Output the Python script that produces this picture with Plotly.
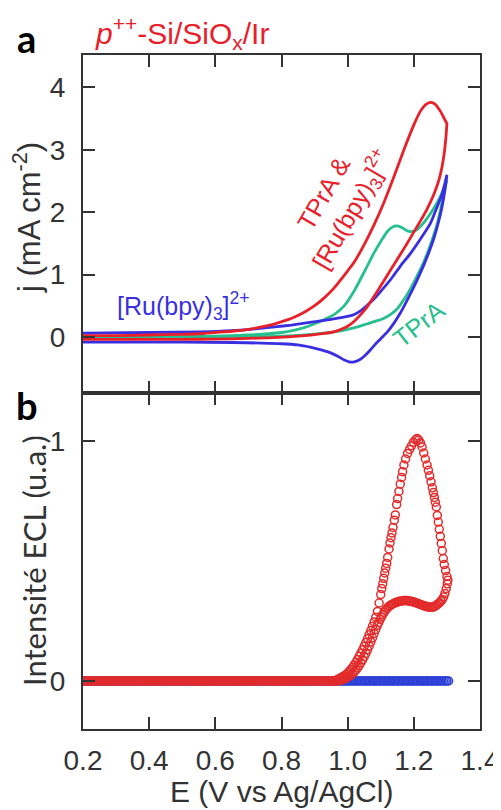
import plotly.graph_objects as go

# ---------------- Panel a : cyclic voltammograms, j (mA cm^-2) vs E (V) ----------------
# TPrA & [Ru(bpy)3]2+  (red)
CV_BOTH_FWD_E = [0.20, 0.30, 0.40, 0.50, 0.55, 0.60, 0.65, 0.70, 0.74, 0.78, 0.81, 0.84, 0.87, 0.90, 0.93,
                 0.96, 0.99, 1.02, 1.05, 1.08, 1.11, 1.14, 1.17, 1.20, 1.22, 1.235, 1.25, 1.265, 1.28, 1.29, 1.30]
CV_BOTH_FWD_J = [0.02, 0.02, 0.03, 0.04, 0.05, 0.07, 0.09, 0.12, 0.16, 0.21, 0.26, 0.32, 0.40, 0.50, 0.63,
                 0.79, 0.99, 1.20, 1.48, 1.80, 2.16, 2.57, 3.00, 3.40, 3.62, 3.72, 3.76, 3.73, 3.62, 3.52, 3.42]
CV_BOTH_REV_E = [1.30, 1.297, 1.292, 1.285, 1.275, 1.26, 1.24, 1.22, 1.20, 1.18, 1.16, 1.14, 1.12, 1.10, 1.08,
                 1.06, 1.04, 1.02, 1.00, 0.98, 0.96, 0.93, 0.90, 0.86, 0.82, 0.76, 0.70, 0.60, 0.50, 0.40, 0.30, 0.20]
CV_BOTH_REV_J = [3.42, 3.20, 2.95, 2.72, 2.50, 2.28, 2.05, 1.86, 1.68, 1.50, 1.33, 1.16, 0.99, 0.82, 0.65,
                 0.49, 0.36, 0.25, 0.17, 0.12, 0.085, 0.055, 0.035, 0.015, 0.0, -0.015, -0.025, -0.035, -0.04, -0.04, -0.04, -0.04]

# TPrA only (green)
CV_TPRA_FWD_E = [0.20, 0.40, 0.60, 0.70, 0.76, 0.80, 0.84, 0.87, 0.90, 0.93, 0.96, 0.99, 1.02, 1.05, 1.08,
                 1.10, 1.12, 1.135, 1.15, 1.165, 1.18, 1.195, 1.21, 1.225, 1.24, 1.26, 1.28, 1.30]
CV_TPRA_FWD_J = [0.00, 0.00, 0.01, 0.03, 0.05, 0.07, 0.11, 0.15, 0.21, 0.28, 0.36, 0.50, 0.74, 1.04, 1.35,
                 1.53, 1.69, 1.76, 1.78, 1.75, 1.70, 1.69, 1.72, 1.80, 1.90, 2.06, 2.25, 2.52]
CV_TPRA_REV_E = [1.30, 1.29, 1.28, 1.27, 1.255, 1.24, 1.225, 1.21, 1.195, 1.18, 1.165, 1.15, 1.13, 1.11, 1.09,
                 1.06, 1.03, 1.00, 0.96, 0.92, 0.88, 0.82, 0.75, 0.60, 0.40, 0.20]
CV_TPRA_REV_J = [2.52, 2.28, 2.02, 1.80, 1.55, 1.33, 1.14, 0.98, 0.82, 0.68, 0.56, 0.45, 0.36, 0.30, 0.26,
                 0.21, 0.16, 0.12, 0.08, 0.055, 0.035, 0.015, 0.0, -0.015, -0.02, -0.02]

# [Ru(bpy)3]2+ only (blue)
CV_RU_FWD_E = [0.20, 0.40, 0.55, 0.65, 0.72, 0.78, 0.83, 0.87, 0.91, 0.95, 0.98, 1.00, 1.02, 1.04, 1.06,
               1.08, 1.10, 1.13, 1.16, 1.19, 1.22, 1.25, 1.27, 1.285, 1.30]
CV_RU_FWD_J = [0.06, 0.07, 0.08, 0.10, 0.13, 0.16, 0.19, 0.22, 0.25, 0.28, 0.31, 0.33, 0.36, 0.42, 0.51,
               0.61, 0.73, 0.92, 1.14, 1.34, 1.57, 1.82, 2.08, 2.28, 2.60]
CV_RU_REV_E = [1.30, 1.293, 1.285, 1.275, 1.26, 1.245, 1.23, 1.215, 1.20, 1.18, 1.16, 1.14, 1.12, 1.10, 1.08,
               1.065, 1.05, 1.035, 1.02, 1.005, 0.99, 0.97, 0.95, 0.92, 0.89, 0.85, 0.80, 0.74, 0.65, 0.50, 0.35, 0.20]
CV_RU_REV_J = [2.60, 2.32, 2.08, 1.85, 1.57, 1.35, 1.15, 0.97, 0.80, 0.59, 0.39, 0.22, 0.08, -0.03, -0.14,
               -0.23, -0.31, -0.37, -0.40, -0.40, -0.37, -0.31, -0.26, -0.21, -0.17, -0.13, -0.11, -0.10, -0.09,
               -0.085, -0.085, -0.085]

# ---------------- Panel b : ECL intensity (a.u.) vs E (V) ----------------
# flat baseline part of the sweep (both traces read as 0 there)
ECL_BASE_E = [round(0.20 + 0.005 * k, 3) for k in range(152)]
ECL_BASE_I = [0.0] * len(ECL_BASE_E)
ECL_RU_E = [round(0.20 + 0.005 * k, 3) for k in range(222)]
ECL_RU_I = [0.0] * len(ECL_RU_E)

# TPrA & [Ru(bpy)3]2+ : forward branch (rise + main peak)
ECL_FWD_E = [0.960, 0.965, 0.970, 0.975, 0.980, 0.985, 0.990, 0.995, 1.000, 1.005,
             1.010, 1.015, 1.020, 1.025, 1.030, 1.035, 1.040, 1.045, 1.050, 1.055,
             1.060, 1.065, 1.070, 1.075, 1.080, 1.085, 1.090, 1.095, 1.100, 1.103,
             1.106, 1.109, 1.112, 1.115, 1.118, 1.121, 1.125, 1.128, 1.131, 1.134,
             1.137, 1.141, 1.144, 1.148, 1.151, 1.155, 1.159, 1.163, 1.166, 1.170,
             1.175, 1.181, 1.187, 1.193, 1.199, 1.205, 1.210, 1.215, 1.220, 1.225,
             1.230, 1.235, 1.240, 1.244, 1.248, 1.252, 1.256, 1.259, 1.262, 1.265,
             1.268, 1.271, 1.274, 1.277, 1.280, 1.283, 1.286, 1.289, 1.292, 1.296,
             1.300]
ECL_FWD_I = [0.000, 0.003, 0.006, 0.010, 0.014, 0.018, 0.022, 0.027, 0.033, 0.040,
             0.048, 0.057, 0.067, 0.078, 0.090, 0.103, 0.116, 0.130, 0.145, 0.160,
             0.176, 0.193, 0.210, 0.228, 0.246, 0.266, 0.290, 0.325, 0.360, 0.385,
             0.405, 0.428, 0.450, 0.470, 0.490, 0.515, 0.550, 0.575, 0.597, 0.617,
             0.640, 0.670, 0.692, 0.735, 0.760, 0.790, 0.820, 0.848, 0.872, 0.900,
             0.925, 0.948, 0.965, 0.980, 0.995, 1.005, 1.010, 1.004, 0.992, 0.975,
             0.950, 0.925, 0.900, 0.878, 0.855, 0.830, 0.805, 0.785, 0.765, 0.745,
             0.725, 0.690, 0.662, 0.632, 0.603, 0.573, 0.543, 0.510, 0.485, 0.460,
             0.435]
# reverse branch (shoulder / plateau)
ECL_REV_E = [1.303, 1.301, 1.298, 1.294, 1.290, 1.286, 1.282, 1.278, 1.274, 1.270,
             1.266, 1.262, 1.258, 1.254, 1.250, 1.246, 1.242, 1.238, 1.234, 1.230,
             1.226, 1.222, 1.218, 1.214, 1.210, 1.206, 1.202, 1.198, 1.194, 1.190,
             1.186, 1.182, 1.178, 1.174, 1.170, 1.166, 1.162, 1.158, 1.154, 1.150,
             1.146, 1.142, 1.138, 1.134, 1.130, 1.126, 1.122, 1.118, 1.114, 1.110,
             1.106, 1.102, 1.098, 1.094, 1.090, 1.085, 1.080, 1.075, 1.070, 1.065,
             1.060, 1.055, 1.050, 1.045, 1.040, 1.035, 1.030, 1.025, 1.020, 1.015,
             1.010, 1.005, 1.000, 0.995, 0.990, 0.985, 0.980, 0.975, 0.970, 0.965,
             0.960]
ECL_REV_I = [0.420, 0.405, 0.385, 0.365, 0.350, 0.340, 0.333, 0.327, 0.322, 0.318,
             0.313, 0.310, 0.308, 0.307, 0.307, 0.308, 0.309, 0.310, 0.312, 0.314,
             0.316, 0.318, 0.320, 0.322, 0.324, 0.326, 0.328, 0.330, 0.331, 0.332,
             0.333, 0.334, 0.335, 0.335, 0.335, 0.334, 0.333, 0.332, 0.331, 0.329,
             0.327, 0.325, 0.322, 0.319, 0.316, 0.312, 0.307, 0.301, 0.294, 0.286,
             0.277, 0.267, 0.256, 0.244, 0.232, 0.215, 0.198, 0.180, 0.163, 0.146,
             0.130, 0.115, 0.101, 0.088, 0.076, 0.065, 0.055, 0.046, 0.038, 0.031,
             0.025, 0.020, 0.016, 0.012, 0.009, 0.006, 0.004, 0.002, 0.001, 0.000,
             0.000]

X_TICKS = [0.2, 0.4, 0.6, 0.8, 1.0, 1.2, 1.4]
YA_TICKS = [0, 1, 2, 3, 4]
YB_TICKS = [0, 1]

# ---------------- styling ----------------
# the page body has an 8px margin, so the figure is drawn 8px in from the window corner
PAGE_PAD = 8
W, H = 501 - PAGE_PAD, 810 - PAGE_PAD
RED = "#e8202a"
BLUE = "#3a2fe0"
GREEN = "#26bf8d"
ECL_RED = "#e32b2b"
ECL_BLUE = "#2b3fd6"
AX = "#333333"
SANS = "Arial, Liberation Sans, sans-serif"
CAL = "Lato, Open Sans, sans-serif"


def fx(p):
    """window pixel x -> paper fraction"""
    return (p - PAGE_PAD) / W


def fy(p):
    """window pixel y -> paper fraction"""
    return 1 - (p - PAGE_PAD) / H


fig = go.Figure()

cv_sets = [
    (CV_TPRA_FWD_E + CV_TPRA_REV_E, CV_TPRA_FWD_J + CV_TPRA_REV_J, GREEN),
    (CV_RU_FWD_E + CV_RU_REV_E, CV_RU_FWD_J + CV_RU_REV_J, BLUE),
    (CV_BOTH_FWD_E + CV_BOTH_REV_E, CV_BOTH_FWD_J + CV_BOTH_REV_J, RED),
]
for xs, ys, c in cv_sets:
    fig.add_trace(go.Scatter(x=xs, y=ys, mode="lines", xaxis="x2", yaxis="y2",
                             line=dict(color=c, width=2.8, shape="spline", smoothing=0.6),
                             showlegend=False, hoverinfo="skip"))

mk = dict(symbol="circle-open", size=8)
fig.add_trace(go.Scatter(x=ECL_RU_E, y=ECL_RU_I, mode="markers", xaxis="x", yaxis="y",
                         marker=dict(color=ECL_BLUE, line=dict(width=1.5, color=ECL_BLUE), **mk),
                         showlegend=False, hoverinfo="skip"))
for xs, ys in [(ECL_BASE_E, ECL_BASE_I), (ECL_REV_E, ECL_REV_I), (ECL_FWD_E, ECL_FWD_I)]:
    fig.add_trace(go.Scatter(x=xs, y=ys, mode="markers", xaxis="x", yaxis="y",
                             marker=dict(color=ECL_RED, line=dict(width=1.5, color=ECL_RED), **mk),
                             showlegend=False, hoverinfo="skip"))

x_dom = [fx(83), fx(480)]
common_axis = dict(showline=True, mirror="ticks", linecolor=AX, linewidth=2, ticks="inside",
                   ticklen=12, tickwidth=2, tickcolor=AX, showgrid=False, zeroline=False,
                   automargin=False, tickfont=dict(family=SANS, size=28, color=AX))

fig.update_layout(
    width=W, height=H, margin=dict(l=0, r=0, t=0, b=0, autoexpand=False),
    paper_bgcolor="white", plot_bgcolor="white",
    xaxis=dict(domain=x_dom, anchor="y", range=[0.2, 1.4], tickvals=X_TICKS, tickformat=".1f",
               ticklabelstandoff=5, **common_axis),
    yaxis=dict(domain=[fy(729), fy(393)], anchor="x", range=[-0.2, 1.2], tickvals=YB_TICKS,
               ticklabelstandoff=10, **common_axis),
    xaxis2=dict(domain=x_dom, anchor="y2", range=[0.2, 1.4], tickvals=X_TICKS, showticklabels=False,
                **common_axis),
    yaxis2=dict(domain=[fy(393), fy(55)], anchor="x2", range=[-0.9, 4.52], tickvals=YA_TICKS,
                ticklabelstandoff=10, **common_axis),
)

ann = [
    dict(text="<b>a</b>", x=fx(26), y=fy(38), font=dict(family=CAL, size=38, color="black")),
    dict(text="<b>b</b>", x=fx(27), y=fy(405), font=dict(family=CAL, size=38, color="black")),
    dict(text="<i>p</i><sup>++</sup>-Si/SiO<sub>x</sub>/Ir", x=fx(182), y=fy(33),
         font=dict(family=SANS, size=30, color=RED)),
    dict(text="j (mA cm<sup>-2</sup>)", x=fx(27), y=fy(218), textangle=-90,
         font=dict(family=SANS, size=31, color=AX)),
    dict(text="Intensité ECL (u.a.)", x=fx(34), y=fy(561), textangle=-90,
         font=dict(family=CAL, size=31, color=AX)),
    dict(text="E (V vs Ag/AgCl)", x=fx(281), y=fy(791), font=dict(family=SANS, size=30, color=AX)),
]
for a in ann:
    fig.add_annotation(xref="paper", yref="paper", showarrow=False, xanchor="center",
                       yanchor="middle", **a)

labels = [
    dict(text="[Ru(bpy)<sub>3</sub>]<sup>2+</sup>", x=0.505, y=0.50, textangle=0,
         font=dict(family=SANS, size=25, color=BLUE)),
    dict(text="TPrA", x=1.215, y=0.21, textangle=-38, font=dict(family=SANS, size=25, color=GREEN)),
    dict(text="TPrA &<br>[Ru(bpy)<sub>3</sub>]<sup>2+</sup>", x=0.975, y=2.16, textangle=-60,
         font=dict(family=SANS, size=25, color=RED)),
]
for a in labels:
    fig.add_annotation(xref="x2", yref="y2", showarrow=False, xanchor="center", yanchor="middle", **a)

fig.write_html("out.html")
